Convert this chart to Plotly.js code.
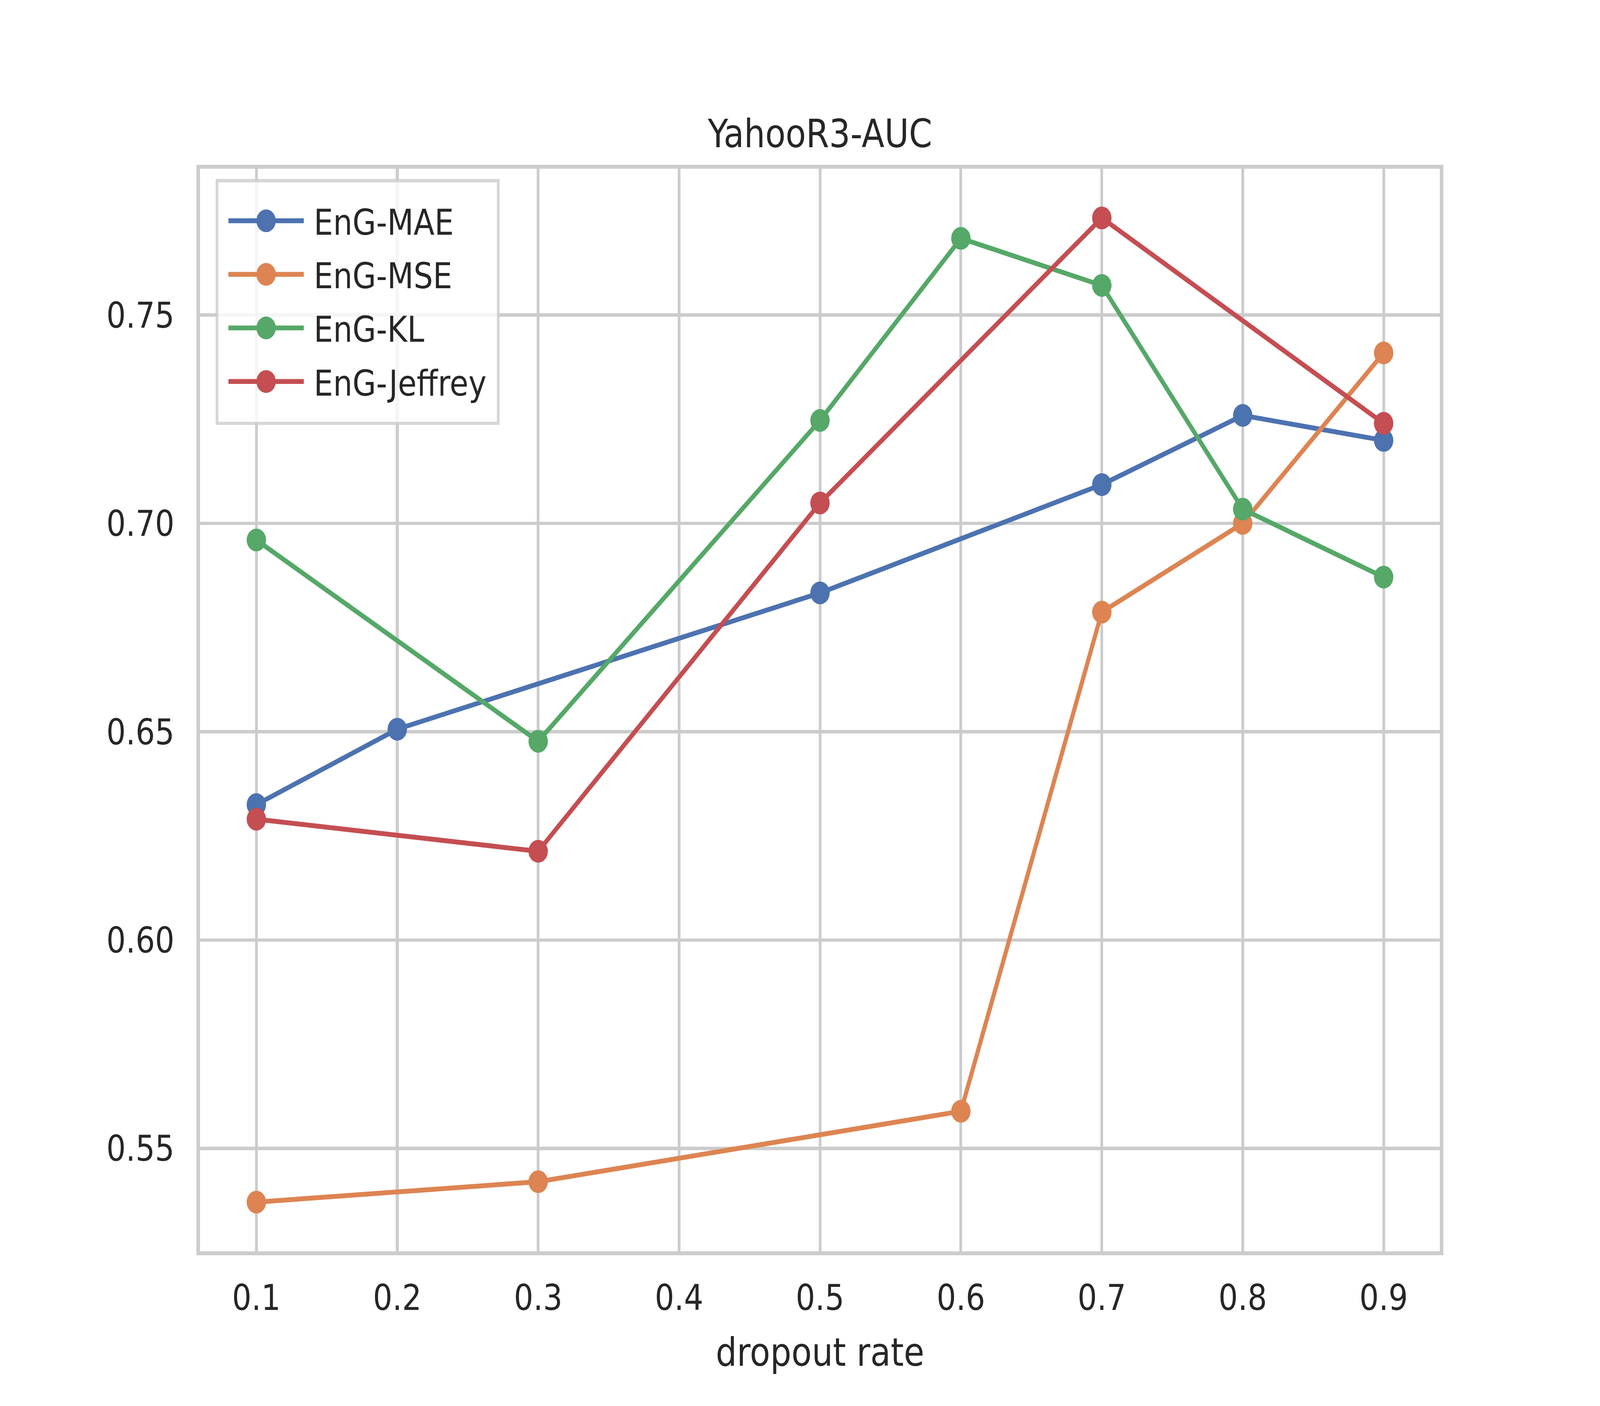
<!DOCTYPE html>
<html>
<head>
<meta charset="utf-8">
<script src="https://cdn.plot.ly/plotly-3.0.1.min.js"></script>
<style>
  html, body { margin: 0; padding: 0; background: #ffffff; overflow: hidden; }
  #frame { position: fixed; left: 0; top: 0; width: 100vw; height: 100vh; overflow: hidden; background: #ffffff; }
  /* drawn at 800x600 (an 8x6in figure at 100dpi) and stretched to fill the window */
  #chart { position: absolute; left: 0; top: 0; width: 800px; height: 600px; transform-origin: 0 0; }
</style>
</head>
<body>
<div id="frame"><div id="chart"></div></div>
<script>
// dropout rates and AUC
var dropoutMAE = [0.1, 0.2, 0.5, 0.7, 0.8, 0.9];
var aucMAE = [0.6325, 0.6506, 0.6833, 0.7093, 0.7259, 0.7199];

var dropoutMSE = [0.1, 0.3, 0.6, 0.7, 0.8, 0.9];
var aucMSE = [0.5371, 0.5420, 0.5589, 0.6787, 0.7000, 0.7409];

var dropoutKL = [0.1, 0.3, 0.5, 0.6, 0.7, 0.8, 0.9];
var aucKL = [0.6960, 0.6477, 0.7247, 0.7684, 0.7571, 0.7034, 0.6871];

var dropoutJeffrey = [0.1, 0.3, 0.5, 0.7, 0.9];
var aucJeffrey = [0.6290, 0.6213, 0.7049, 0.7733, 0.7240];

var xTicks = [0.1, 0.2, 0.3, 0.4, 0.5, 0.6, 0.7, 0.8, 0.9];
var yTicks = [0.55, 0.60, 0.65, 0.70, 0.75];

var names = ['EnG-MAE', 'EnG-MSE', 'EnG-KL', 'EnG-Jeffrey'];
var colors = ['#4c72b0', '#dd8452', '#55a868', '#c44e52']; // seaborn "deep"

var FONT = 'DejaVu Sans';
var INK = '#262626';

var xs = [dropoutMAE, dropoutMSE, dropoutKL, dropoutJeffrey];
var ys = [aucMAE, aucMSE, aucKL, aucJeffrey];

var traces = names.map(function (name, i) {
  return {
    x: xs[i],
    y: ys[i],
    name: name,
    type: 'scatter',
    mode: 'lines+markers',
    line: { color: colors[i], width: 2.08 },
    marker: { color: colors[i], size: 9.7, line: { width: 0 } }
  };
});

// matplotlib style 5% margins round the data
function padRange(arrays) {
  var all = [].concat.apply([], arrays);
  var lo = Math.min.apply(null, all), hi = Math.max.apply(null, all);
  var m = (hi - lo) * 0.05;
  return [lo - m, hi + m];
}

var layout = {
  width: 800,
  height: 600,
  margin: { l: 100, r: 80, t: 72, b: 66 },
  paper_bgcolor: '#ffffff',
  plot_bgcolor: '#ffffff',
  font: { family: FONT, size: 15.28, color: INK },
  title: {
    text: 'YahooR3-AUC',
    font: { family: FONT, size: 16.67, color: INK },
    x: 0.5, xref: 'paper', xanchor: 'center',
    y: 1 - 62.8 / 600, yref: 'container', yanchor: 'bottom'
  },
  xaxis: {
    range: padRange(xs),
    tickvals: xTicks,
    tickformat: '.1f',
    ticks: '',
    ticklabelstandoff: 5,
    showgrid: true, gridcolor: '#cccccc', gridwidth: 1.39,
    zeroline: false,
    showline: true, linecolor: '#cccccc', linewidth: 1.74, mirror: true,
    tickfont: { family: FONT, size: 15.28, color: INK },
    title: { text: 'dropout rate', font: { family: FONT, size: 16.67, color: INK }, standoff: 9 }
  },
  yaxis: {
    range: padRange(ys),
    tickvals: yTicks,
    tickformat: '.2f',
    ticks: '',
    ticklabelstandoff: 8,
    showgrid: true, gridcolor: '#cccccc', gridwidth: 1.39,
    zeroline: false,
    showline: true, linecolor: '#cccccc', linewidth: 1.74, mirror: true,
    tickfont: { family: FONT, size: 15.28, color: INK }
  },
  showlegend: true,
  legend: {
    x: 0.0126, y: 0.9905, xanchor: 'left', yanchor: 'top',
    itemwidth: 37.7,
    bgcolor: 'rgba(255,255,255,0.8)',
    bordercolor: 'rgba(204,204,204,0.8)',
    borderwidth: 1.39,
    font: { family: FONT, size: 15.28, color: INK }
  }
};

// the window is not always 4:3, so stretch the 800x600 drawing onto all of it
var chartDiv = document.getElementById('chart');
var sx = window.innerWidth / 800, sy = window.innerHeight / 600;
chartDiv.style.transform = 'scale(' + sx + ',' + sy + ')';

Plotly.newPlot('chart', traces, layout, { staticPlot: true, displayModeBar: false });
</script>
</body>
</html>
